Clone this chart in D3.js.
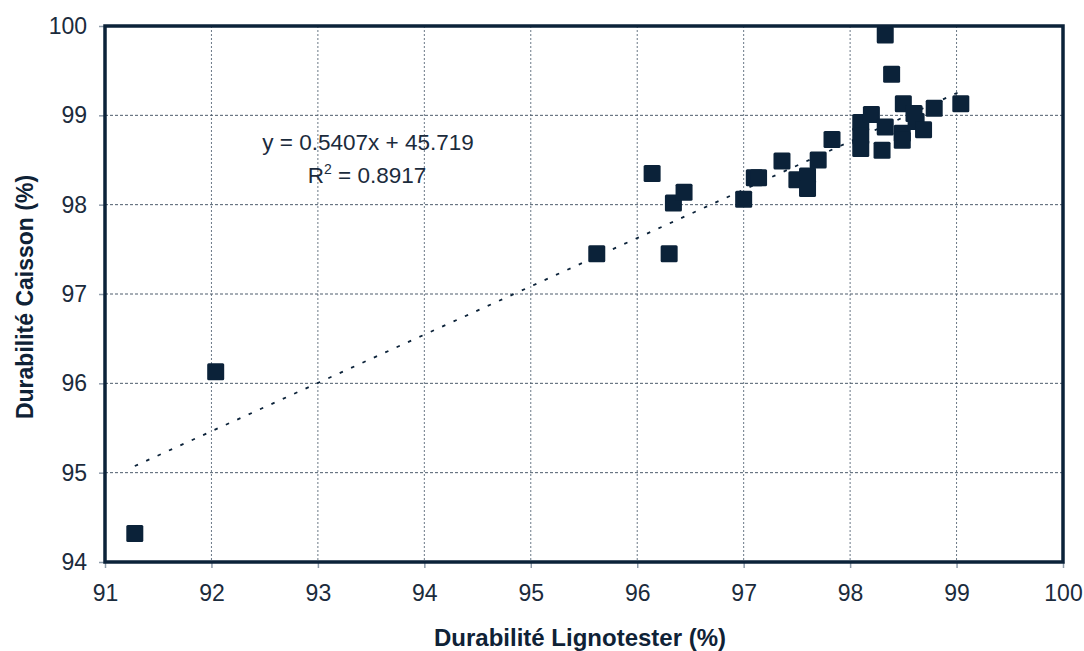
<!DOCTYPE html>
<html><head><meta charset="utf-8">
<script src="https://cdn.jsdelivr.net/npm/d3@7"></script>
<style>body{margin:0;background:#fff}svg{display:block}text{font-family:"Liberation Sans",Arial,sans-serif}</style>
</head><body><svg id="c" width="1084" height="651"></svg>
<script>
const xVals = [91.28,92.04,95.62,96.14,96.30,96.34,96.44,97.00,97.10,97.14,97.36,97.50,97.60,97.60,97.70,97.83,98.10,98.10,98.10,98.20,98.30,98.33,98.33,98.39,98.49,98.49,98.50,98.60,98.62,98.69,98.79,99.04];
const yVals = [94.32,96.13,97.45,98.35,97.45,98.02,98.14,98.06,98.30,98.30,98.49,98.28,98.32,98.18,98.50,98.73,98.92,98.77,98.63,99.01,98.61,98.87,99.90,99.46,98.80,98.72,99.13,99.02,98.93,98.84,99.08,99.13];
const xTicks = [91,92,93,94,95,96,97,98,99,100];
const yTicks = [94,95,96,97,98,99,100];
const trendSlope = 0.5407, trendIntercept = 45.719;
const eqLines = ["y = 0.5407x  + 45.719", "R2 = 0.8917"];
const xTitle = "Durabilité Lignotester (%)";
const yTitle = "Durabilité Caisson (%)";

const L=105,R=1063,T=26,B=562;
const navy="#0b2239";
const svg=d3.select("#c");
const x=d3.scaleLinear().domain([91,100]).range([L,R]);
const y=d3.scaleLinear().domain([94,100]).range([B,T]);

// grid
svg.append("g").selectAll("line").data(xTicks.slice(1,-1)).join("line")
  .attr("x1",d=>x(d)).attr("x2",d=>x(d)).attr("y1",T).attr("y2",B)
  .attr("stroke","#6a7886").attr("stroke-width",1).attr("stroke-dasharray","2,2");
svg.append("g").selectAll("line").data(yTicks.slice(1,-1)).join("line")
  .attr("y1",d=>y(d)).attr("y2",d=>y(d)).attr("x1",L).attr("x2",R)
  .attr("stroke","#4e5d6c").attr("stroke-width",1).attr("stroke-dasharray","3,2");

// axes
const xa=svg.append("g").attr("transform",`translate(0,${B})`)
  .call(d3.axisBottom(x).tickValues(xTicks).tickSize(6).tickPadding(17).tickFormat(d3.format("d")));
const ya=svg.append("g").attr("transform",`translate(${L},0)`)
  .call(d3.axisLeft(y).tickValues(yTicks).tickSize(6).tickPadding(12).tickFormat(d3.format("d")));
[xa,ya].forEach(a=>{a.select(".domain").remove();
  a.selectAll(".tick line").attr("stroke","#8f9cab").attr("stroke-width",1.5);
  a.selectAll(".tick text").attr("fill","#1b2b3c").style("font-size","23px").style("font-family","'Liberation Sans',Arial,sans-serif");});

// trendline
const x0=d3.min(xVals), x1=d3.max(xVals);
svg.append("line").attr("x1",x(x0)).attr("y1",y(trendSlope*x0+trendIntercept))
  .attr("x2",x(x1)).attr("y2",y(trendSlope*x1+trendIntercept))
  .attr("stroke",navy).attr("stroke-width",1.8).attr("stroke-dasharray","3.5,9");

// points
const s=17;
svg.append("g").selectAll("rect").data(xVals.map((v,i)=>[v,yVals[i]])).join("rect")
  .attr("x",d=>x(d[0])-s/2).attr("y",d=>y(d[1])-s/2).attr("width",s).attr("height",s)
  .attr("rx",1.5).attr("fill",navy);

// frame
svg.append("rect").attr("x",L).attr("y",T).attr("width",R-L).attr("height",B-T)
  .attr("fill","none").attr("stroke",navy).attr("stroke-width",3.5);

// equation
svg.append("text").attr("x",368).attr("y",150).attr("text-anchor","middle")
  .attr("fill","#1b2b3c").style("font-size","22.5px").text(eqLines[0]);
const r2=svg.append("text").attr("x",367).attr("y",183).attr("text-anchor","middle")
  .attr("fill","#1b2b3c").style("font-size","22.5px");
r2.append("tspan").text("R");
r2.append("tspan").attr("dy",-9).style("font-size","14px").text("2");
r2.append("tspan").attr("dy",9).text(" = 0.8917");

// titles
svg.append("text").attr("x",580).attr("y",646).attr("text-anchor","middle")
  .attr("fill","#0f2236").style("font-size","24px").style("font-weight","bold").text(xTitle);
svg.append("text").attr("transform","translate(33,297) rotate(-90)").attr("text-anchor","middle")
  .attr("fill","#0f2236").style("font-size","23px").style("font-weight","bold").text(yTitle);
</script></body></html>
